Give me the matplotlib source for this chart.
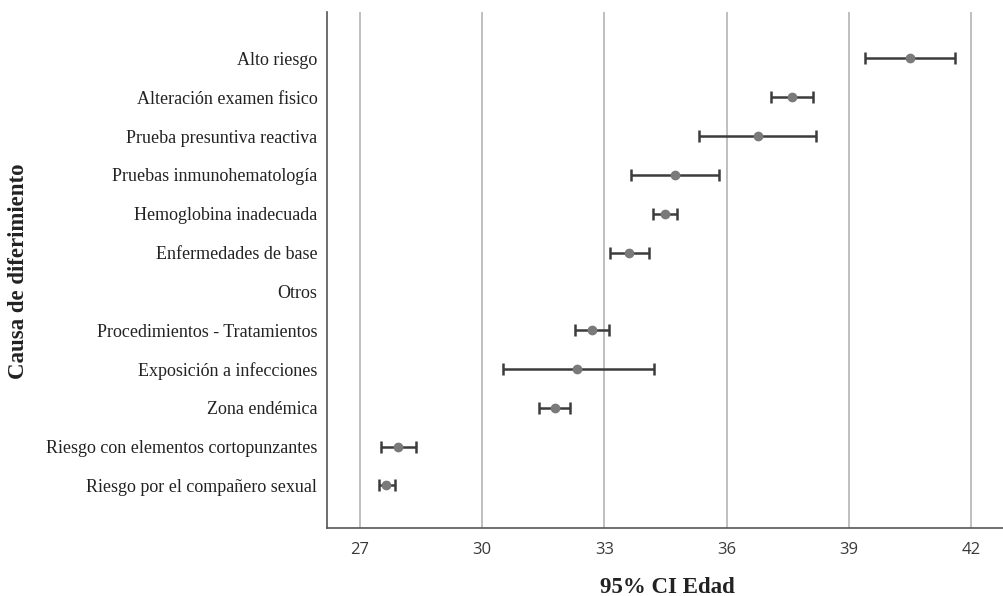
import matplotlib
matplotlib.use("Agg")
import matplotlib.pyplot as plt
import numpy as np

plt.rcParams['font.family'] = ['Liberation Serif', 'DejaVu Serif']

# Causes of deferral, top to bottom
causas = [
    "Alto riesgo",
    "Alteración examen fisico",
    "Prueba presuntiva reactiva",
    "Pruebas inmunohematología",
    "Hemoglobina inadecuada",
    "Enfermedades de base",
    "Otros",
    "Procedimientos - Tratamientos",
    "Exposición a infecciones",
    "Zona endémica",
    "Riesgo con elementos cortopunzantes",
    "Riesgo por el compañero sexual",
]
# mean age and 95% CI bounds (Otros has no interval drawn)
media = [40.50, 37.61, 36.76, 34.74, 34.48, 33.61, np.nan, 32.69, 32.34, 31.78, 27.94, 27.65]
ci_low = [39.39, 37.10, 35.32, 33.66, 34.19, 33.14, np.nan, 32.27, 30.50, 31.39, 27.51, 27.46]
ci_high = [41.60, 38.13, 38.20, 35.82, 34.79, 34.09, np.nan, 33.12, 34.21, 32.16, 28.37, 27.87]
x_ticks = [27, 30, 33, 36, 39, 42]

media = np.array(media)
err = np.array([media - np.array(ci_low), np.array(ci_high) - media])
y = np.arange(len(causas))

fig = plt.figure(figsize=(10.04, 5.96), dpi=100)
ax = fig.add_axes([0.3257, 0.114, 0.673, 0.866])

for xt in x_ticks:
    ax.axvline(xt, color='#b4b4b4', lw=1.2, zorder=0)

ax.errorbar(media, y, xerr=err, fmt='o', color='#3c3c3c', ecolor='#3c3c3c',
            elinewidth=1.8, capsize=4, capthick=1.8,
            markersize=6, markerfacecolor='#7a7a7a', markeredgecolor='#7a7a7a', zorder=3)

ax.set_yticks(y)
ax.set_yticklabels(causas, fontsize=13, color='#222222')
ax.set_xticks(x_ticks)
ax.set_xticklabels([str(v) for v in x_ticks], fontsize=12, color='#3a3a3a',
                   family=['Open Sans', 'DejaVu Sans'])
ax.set_xlim(26.19, 42.78)
ax.set_ylim(12.1, -1.2)

ax.tick_params(axis='y', length=0, pad=7)
ax.tick_params(axis='x', length=0, pad=10)

for s in ['top', 'right']:
    ax.spines[s].set_visible(False)
ax.spines['left'].set_color('#555555')
ax.spines['bottom'].set_color('#555555')
ax.spines['left'].set_linewidth(1.2)
ax.spines['bottom'].set_linewidth(1.2)

fig.text(0.665, 0.015, '95% CI Edad', ha='center', va='center',
         fontsize=16.5, fontweight='bold', color='#222222')
fig.text(0.018, 0.545, 'Causa de diferimiento', ha='center', va='center',
         rotation=90, fontsize=16.5, fontweight='bold', color='#222222')

fig.savefig('out.png', dpi=100)
